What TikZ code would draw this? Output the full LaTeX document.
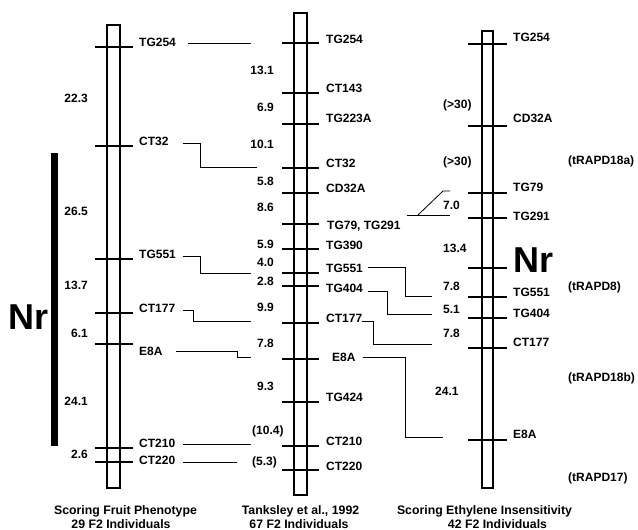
\documentclass[tikz,border=0pt]{standalone}
\usepackage{fontspec}
\setmainfont{Liberation Sans}
\begin{document}
\begin{tikzpicture}[x=1pt,y=-1pt,
  lbl/.style={font=\fontsize{12}{14}\selectfont\bfseries, inner sep=0pt, text height=8.6pt, text depth=0pt, anchor=west},
  numr/.style={font=\fontsize{12}{14}\selectfont\bfseries, inner sep=0pt, text height=8.6pt, text depth=0pt, anchor=east},
  numl/.style={font=\fontsize{12}{14}\selectfont\bfseries, inner sep=0pt, text height=8.6pt, text depth=0pt, anchor=west},
  chrom/.style={draw, line width=1.6pt},
  tickln/.style={line width=1.8pt},
  conn/.style={line width=0.8pt},
  big/.style={font=\fontsize{36}{40}\selectfont\bfseries, inner sep=0pt, text height=25.8pt, text depth=0pt},
  capt/.style={font=\fontsize{12.3}{14}\selectfont\bfseries, inner sep=0pt, text height=8.6pt, text depth=0pt}]
\useasboundingbox (0,0) rectangle (638,530);

% ---------- chromosomes ----------
\draw[chrom] (107,25) rectangle (120,488);
\foreach \y in {47,146,259,313,344,448,462} \draw[tickln] (95,\y) -- (133,\y);
\draw[chrom] (294,13) rectangle (307,495);
\foreach \y in {43,93,124,168,193,224,249,273,286,323,359,402,446,470} \draw[tickln] (282,\y) -- (319,\y);
\draw[chrom] (482,31) rectangle (493,488);
\foreach \y in {44,126,193,218,268,297,318,348,440} \draw[tickln] (468,\y) -- (507,\y);

% Nr bar
\fill (51,153) rectangle (58,446);
\node[big] (nrL) at (29,316.5) {Nr};

% ---------- column 1 ----------
\node[lbl] (a1) at (139,42.5) {TG254};
\node[lbl] (a2) at (139,141.5) {CT32};
\node[lbl] (a3) at (139,254.5) {TG551};
\node[lbl] (a4) at (139,308.5) {CT177};
\node[lbl] (a5) at (139,351.5) {E8A};
\node[lbl] (a6) at (139,443.5) {CT210};
\node[lbl] (a7) at (139,460.5) {CT220};
\node[numr] (ad1) at (88,98.5) {22.3};
\node[numr] (ad2) at (88,211.5) {26.5};
\node[numr] (ad3) at (88,285.5) {13.7};
\node[numr] (ad4) at (88,333.5) {6.1};
\node[numr] (ad5) at (88,401.5) {24.1};
\node[numr] (ad6) at (88,454.5) {2.6};

% ---------- column 2 ----------
\node[lbl] (b1) at (326,39) {TG254};
\node[lbl] (b2) at (326,88.5) {CT143};
\node[lbl] (b3) at (326,118.5) {TG223A};
\node[lbl] (b4) at (326,163.5) {CT32};
\node[lbl] (b5) at (326,188.5) {CD32A};
\node[lbl] (b6) at (327,225.5) {TG79, TG291};
\node[lbl] (b7) at (326,245) {TG390};
\node[lbl] (b8) at (326,268.5) {TG551};
\node[lbl] (b9) at (326,288.5) {TG404};
\node[lbl] (b10) at (326,318.5) {CT177};
\node[lbl] (b11) at (332,357) {E8A};
\node[lbl] (b12) at (326,397.5) {TG424};
\node[lbl] (b13) at (326,441.5) {CT210};
\node[lbl] (b14) at (326,466.5) {CT220};
\node[numr] (bd1) at (274,70.5) {13.1};
\node[numr] (bd2) at (274,107.5) {6.9};
\node[numr] (bd3) at (274,144.5) {10.1};
\node[numr] (bd4) at (274,181.5) {5.8};
\node[numr] (bd5) at (274,207.5) {8.6};
\node[numr] (bd6) at (274,244.5) {5.9};
\node[numr] (bd7) at (274,262.5) {4.0};
\node[numr] (bd8) at (274,281.5) {2.8};
\node[numr] (bd9) at (274,307.5) {9.9};
\node[numr] (bd10) at (274,343.5) {7.8};
\node[numr] (bd11) at (274,386.5) {9.3};
\node[numl] (bd12) at (252,430) {(10.4)};
\node[numl] (bd13) at (252,461) {(5.3)};

% ---------- column 3 ----------
\node[lbl] (c1) at (513,37.5) {TG254};
\node[lbl] (c2) at (513,118.5) {CD32A};
\node[lbl] (c3) at (513,187.5) {TG79};
\node[lbl] (c4) at (513,216.5) {TG291};
\node[big, anchor=west] (nrR) at (513,260) {Nr};
\node[lbl] (c5) at (513,292) {TG551};
\node[lbl] (c6) at (513,313.5) {TG404};
\node[lbl] (c7) at (513,342.5) {CT177};
\node[lbl] (c8) at (513,434.5) {E8A};
\node[numl] (cd1) at (443,104.5) {(>30)};
\node[numl] (cd2) at (443,161.5) {(>30)};
\node[numl] (cd3) at (443,205) {7.0};
\node[numl] (cd4) at (443,248.5) {13.4};
\node[numl] (cd5) at (443,286.5) {7.8};
\node[numl] (cd6) at (443,309.5) {5.1};
\node[numl] (cd7) at (443,333.5) {7.8};
\node[numl] (cd8) at (435,391.5) {24.1};
\node[lbl] (r1) at (568,160) {(tRAPD18a)};
\node[lbl] (r2) at (568,286) {(tRAPD8)};
\node[lbl] (r3) at (568,377) {(tRAPD18b)};
\node[lbl] (r4) at (568,477) {(tRAPD17)};

% ---------- captions ----------
\node[capt] (t1a) at (125.5,510.5) {Scoring Fruit Phenotype};
\node[capt] (t1b) at (121,524) {29 F2 Individuals};
\node[capt] (t2a) at (300.5,510) {Tanksley et al., 1992};
\node[capt] (t2b) at (299,524) {67 F2 Individuals};
\node[capt] (t3a) at (484.5,510.5) {Scoring Ethylene Insensitivity};
\node[capt] (t3b) at (497.5,524) {42 F2 Individuals};

% ---------- connectors col1 -> col2 ----------
\draw[conn] (188,43) -- (251,43);
\draw[conn] (183,143) -- (200,143) -- (200,167) -- (257,167);
\draw[conn] (183,256) -- (200,256) -- (200,273) -- (251,273);
\draw[conn] (183,310) -- (193,310) -- (193,321) -- (251,321);
\draw[conn] (176,351) -- (237,351) -- (237,357) -- (251,357);
\draw[conn] (183,444) -- (251,444);
\draw[conn] (183,462) -- (237,462);

% ---------- connectors col2 -> col3 ----------
\draw[conn] (407,215) -- (450,215);
\draw[conn] (418,215) -- (443,191) -- (450,191);
\draw[conn] (368,267) -- (405,267) -- (405,296) -- (432,296);
\draw[conn] (368,291) -- (387,291) -- (387,314) -- (432,314);
\draw[conn] (362,321) -- (373,321) -- (373,344) -- (432,344);
\draw[conn] (363,357) -- (405,357) -- (405,437) -- (443,437);
\end{tikzpicture}
\end{document}
